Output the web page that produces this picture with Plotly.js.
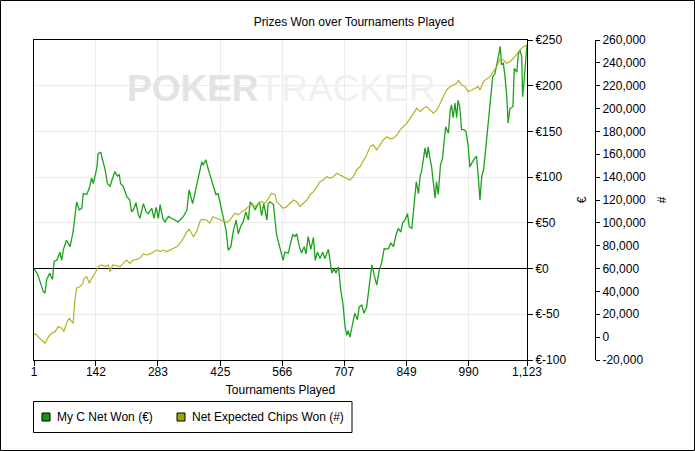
<!DOCTYPE html>
<html><head><meta charset="utf-8">
<script src="https://cdn.plot.ly/plotly-3.0.1.min.js"></script>
<style>html,body{margin:0;padding:0;background:#fff;overflow:hidden}</style>
</head><body><div id="chart" style="width:695px;height:451px"></div>
<script>
// ---- data ----
const netWonX = [1,10,22,26,30,37,43,47,53,60,64,68,75,83,90,98,104,110,113,121,127,132,136,140,144,147,153,157,163,168,174,178,185,191,195,198,204,212,219,223,227,233,238,242,250,256,261,269,274,279,284,288,294,299,307,314,322,329,337,342,349,354,362,367,373,379,383,386,392,398,405,411,415,420,426,432,438,443,449,455,461,466,471,477,483,489,493,499,504,508,514,519,524,531,534,538,546,553,561,568,572,580,585,590,595,599,605,610,616,620,625,631,637,641,646,652,658,663,671,675,679,684,688,694,699,704,709,713,716,720,726,731,737,741,747,752,758,764,770,775,781,787,792,798,802,808,813,819,825,830,836,840,845,851,855,861,866,871,876,880,883,887,891,895,898,902,906,910,914,917,921,926,931,934,938,944,948,951,955,959,963,966,970,974,979,984,989,993,999,1005,1008,1012,1016,1020,1024,1027,1031,1035,1039,1045,1050,1054,1058,1062,1065,1069,1073,1077,1080,1084,1091,1094,1100,1103,1107,1111,1113,1116,1119,1123];
const netWonEUR = [0,-7,-25,-27,-12,-5,-12,8,9,18,9,21,31,24,40,73,64,66,82,81,88,99,93,101,110,126,127,119,108,93,90,96,106,101,103,93,90,79,75,62,64,72,60,55,71,62,60,66,55,67,55,70,55,51,57,55,53,51,55,58,64,86,71,82,95,108,117,113,119,108,97,86,81,82,68,57,42,20,24,42,53,38,46,51,62,53,73,70,64,68,73,58,71,53,71,73,70,37,22,9,18,17,28,37,35,38,24,17,24,16,35,21,34,9,18,11,18,11,21,9,-5,0,-5,2,-23,-38,-64,-73,-68,-75,-60,-49,-56,-42,-40,-49,-42,-16,4,-7,-18,-1,6,22,21,22,28,24,37,44,40,50,53,60,46,44,71,95,82,102,106,117,132,121,133,121,111,93,77,95,81,113,121,137,155,148,172,179,165,181,165,184,177,152,152,150,135,111,117,121,123,101,75,101,108,121,141,155,174,210,213,221,232,243,223,225,210,188,159,175,177,219,215,234,239,232,188,203,221,245];

const expChipsX = [1,5,10,18,26,34,41,49,56,64,69,75,81,87,90,94,98,106,112,115,121,127,132,140,147,155,163,170,174,180,189,197,204,212,219,227,235,242,250,258,265,273,280,288,295,303,311,318,326,333,341,349,354,364,371,380,386,394,401,408,417,424,432,440,447,458,466,474,481,489,497,504,512,519,527,534,542,550,553,561,568,576,584,591,599,606,614,622,629,637,645,652,659,667,675,682,690,697,705,713,720,728,735,743,750,758,766,773,781,789,796,804,811,819,827,834,842,849,857,864,872,880,887,895,902,910,918,925,933,940,948,955,963,967,974,982,989,997,1005,1012,1016,1024,1031,1039,1046,1054,1062,1069,1077,1084,1092,1100,1107,1115,1123];
const expChips = [1900,3000,400,-2500,-5400,400,3400,4800,9200,7800,4800,12100,16500,13500,12100,32500,42800,44200,47100,51500,53000,47100,51500,55900,61700,63100,61700,63100,57300,63100,62500,61700,64600,67500,64600,67500,68000,69000,72800,71900,72800,74800,76200,74800,76200,74800,76200,77700,79100,82100,86500,92300,94400,87900,92300,102500,103000,102500,99600,105400,104000,102500,101100,100200,102500,108400,107000,109800,111300,114200,115700,114200,117100,118600,117100,121500,125900,124500,118600,115700,112800,114200,117100,120000,118600,114200,117100,120000,124400,127300,131700,136000,137500,140400,139000,140400,143400,142000,140400,139000,137500,140400,146300,149200,153500,159400,166700,168200,163800,168200,172500,175400,173500,174000,176900,181300,184200,187100,191500,195900,200300,197300,200300,201700,198800,195900,198800,204600,211900,216300,219200,220700,222100,225000,220700,219200,214800,216300,217700,219200,216300,223600,225900,227900,232300,236700,244000,242500,239600,241000,244000,248400,251300,254200,255600];

const xTickVals = [1,142,283,425,566,707,849,990,1123];
const xTickText = ['1','142','283','425','566','707','849','990','1,123'];
const eurTickVals = [-100,-50,0,50,100,150,200,250];
const eurTickText = ['€-100','€-50','€0','€50','€100','€150','€200','€250'];
const chipTickVals = [-20000,0,20000,40000,60000,80000,100000,120000,140000,160000,180000,200000,220000,240000,260000];
const chipTickText = ['-20,000','0','20,000','40,000','60,000','80,000','100,000','120,000','140,000','160,000','180,000','200,000','220,000','240,000','260,000'];

const seriesNames = ['My C Net Won (€)','Net Expected Chips Won (#)'];
const chartTitle = 'Prizes Won over Tournaments Played';

// ---- layout geometry ----
const W=695,H=451,L=34,R=0,T=40,B=91;
const PW=W-L-R, PH=H-T-B;
const px = v => (v-L)/PW;
const py = v => (H-B-v)/PH;
const GREEN='#1aa31a', OLIVE='#b3b324';
const FONT='Liberation Sans, Arial, sans-serif';

const traces = [
  {x:expChipsX, y:expChips, type:'scatter', mode:'lines', yaxis:'y2', name:seriesNames[1],
   line:{color:OLIVE,width:1.2}, showlegend:false, hoverinfo:'skip'},
  {x:netWonX, y:netWonEUR, type:'scatter', mode:'lines', yaxis:'y', name:seriesNames[0],
   line:{color:GREEN,width:1.3}, showlegend:false, hoverinfo:'skip'}
];

const layout = {
  width:W, height:H, margin:{l:L,r:R,t:T,b:B,pad:0},
  paper_bgcolor:'#fff', plot_bgcolor:'#fff',
  font:{family:FONT,size:12,color:'#000'},
  showlegend:false,
  title:{text:chartTitle, x:354/W, xref:'container', xanchor:'center', y:1-22/H, yref:'container', yanchor:'middle', font:{family:FONT,size:12,color:'#000'}},
  xaxis:{domain:[0,(527-L)/PW], range:[1,1123], tickvals:xTickVals, ticktext:xTickText,
    ticks:'outside', ticklen:5, tickcolor:'#000', showline:true, linecolor:'#000', linewidth:1, mirror:true,
    showgrid:true, gridcolor:'#ebebeb', zeroline:false, tickfont:{size:12}, ticklabelstandoff:-4,
    title:{text:'Tournaments Played', standoff:7, font:{size:12}}},
  yaxis:{side:'right', range:[-100,250], tickvals:eurTickVals, ticktext:eurTickText,
    ticks:'outside', ticklen:5, tickcolor:'#000', showline:true, linecolor:'#000', linewidth:1, mirror:true,
    showgrid:true, gridcolor:'#ebebeb', zeroline:true, zerolinecolor:'#000', zerolinewidth:1,
    tickfont:{size:12}, title:{text:'€', standoff:12, font:{size:12}}},
  yaxis2:{overlaying:'y', side:'right', anchor:'free', position:px(595), range:[-20000,260000],
    tickvals:chipTickVals, ticktext:chipTickText, ticks:'outside', ticklen:4, tickcolor:'#000',
    showline:true, linecolor:'#000', linewidth:1, showgrid:false, zeroline:false,
    tickfont:{size:12}, title:{text:'#', standoff:12, font:{size:12}}},
  shapes:[
    {type:'rect', xref:'paper', yref:'paper', x0:px(0.5), x1:px(694.5), y0:py(450.5), y1:py(0.5), line:{color:'#000',width:1}, layer:'below'},
    {type:'rect', xref:'paper', yref:'paper', x0:px(33.5), x1:px(352), y0:py(432.5), y1:py(401.5), line:{color:'#000',width:1}},
    {type:'rect', xref:'paper', yref:'paper', x0:px(42), x1:px(50), y0:py(421), y1:py(413), fillcolor:'#0f9a0f', line:{color:'#000',width:1}},
    {type:'rect', xref:'paper', yref:'paper', x0:px(177), x1:px(185), y0:py(421), y1:py(413), fillcolor:'#a3a300', line:{color:'#000',width:1}}
  ],
  annotations:[
    {xref:'paper', yref:'paper', x:px(281), y:py(89), xanchor:'center', yanchor:'middle', showarrow:false,
     text:'<span style="color:#e3e3e3"><b>POKER</b></span><span style="color:#f0f0f0">TRACKER</span>',
     font:{family:FONT,size:37}},
    {xref:'paper', yref:'paper', x:px(55), y:py(417), xanchor:'left', yanchor:'middle', showarrow:false,
     text:seriesNames[0], font:{family:FONT,size:12,color:'#000'}},
    {xref:'paper', yref:'paper', x:px(190), y:py(417), xanchor:'left', yanchor:'middle', showarrow:false,
     text:seriesNames[1], font:{family:FONT,size:12,color:'#000'}}
  ]
};

Plotly.newPlot('chart', traces, layout, {staticPlot:true, displayModeBar:false});
</script>
</body></html>
